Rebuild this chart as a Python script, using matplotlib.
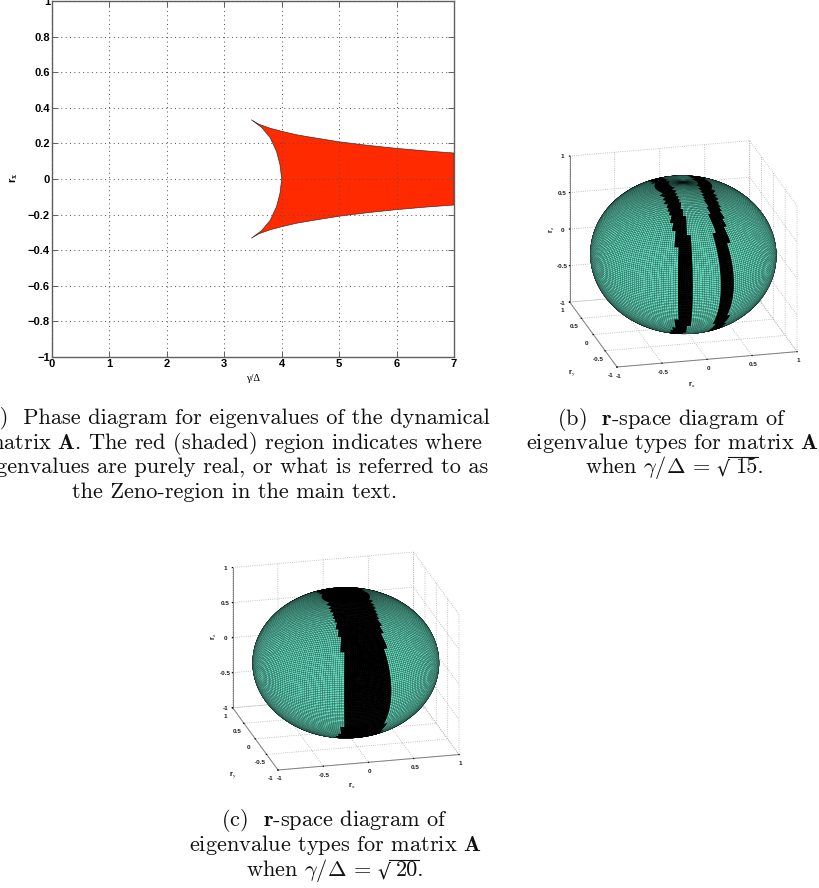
import numpy as np
import matplotlib
matplotlib.use("Agg")
import matplotlib.pyplot as plt
from matplotlib.lines import Line2D
from mpl_toolkits.mplot3d import proj3d

plt.rcParams['mathtext.fontset'] = 'cm'
plt.rcParams['axes.unicode_minus'] = True

W, H = 820, 888
SANS = 'Liberation Sans'
SERIF = 'cmr10'
GREY = '#606060'

# ---- data ----
x_ticks = [0, 1, 2, 3, 4, 5, 6, 7]
y_ticks = [-1, -0.8, -0.6, -0.4, -0.2, 0, 0.2, 0.4, 0.6, 0.8, 1]
y_labels = ['\u22121', '\u22120.8', '\u22120.6', '\u22120.4', '\u22120.2', '0',
            '0.2', '0.4', '0.6', '0.8', '1']

# upper edge of the red region, gamma/Delta against r_x
edge_gamma = [3.47, 3.6, 3.8, 4.0, 4.25, 4.5, 4.75, 5.0, 5.5, 6.0, 6.5, 7.0]
edge_r = [0.333, 0.308, 0.285, 0.268, 0.249, 0.235, 0.222, 0.209, 0.189, 0.172, 0.158, 0.146]
# left (cusped) edge of the red region, from the tip to r_x = 0
cusp_r = [0.333, 0.29, 0.232, 0.155, 0.08, 0.0]
cusp_gamma = [3.47, 3.65, 3.80, 3.91, 3.97, 4.0]

# r_x intervals of the black bands on each sphere
bands_b = [(-0.29, -0.14), (0.14, 0.29)]
bands_c = [(-0.235, 0.235)]

ticks_3d = [-1, -0.5, 0, 0.5, 1]
tick_labels_3d = ['-1', '-0.5', '0', '0.5', '1']

captions_a = [r"(a)  Phase diagram for eigenvalues of the dynamical",
              r"matrix $\mathbf{A}$. The red (shaded) region indicates where",
              r"eigenvalues are purely real, or what is referred to as",
              r"the Zeno-region in the main text."]
captions_b = [r"(b)  $\mathbf{r}$-space diagram of",
              r"eigenvalue types for matrix $\mathbf{A}$"]
captions_c = [r"(c)  $\mathbf{r}$-space diagram of",
              r"eigenvalue types for matrix $\mathbf{A}$"]
when_text = r"when $\gamma/\Delta$ ="
root_b = "15."
root_c = "20."

TEAL = '#66E0C2'
EDGE = '#000000'
ELEV, AZIM = 20, -104

fig = plt.figure(figsize=(W / 100, H / 100), dpi=100, facecolor='white')


def rect(l, t, r, b):
    return [l / W, 1 - b / H, (r - l) / W, (b - t) / H]


# ---- phase diagram ----
ax = fig.add_axes(rect(52, 1, 454, 357))
poly_g = list(edge_gamma) + list(edge_gamma[::-1]) + cusp_gamma[1:] + cusp_gamma[::-1][1:-1]
poly_r = list(edge_r) + [-v for v in edge_r[::-1]] + [-v for v in cusp_r[1:]] + cusp_r[::-1][1:-1]
ax.fill(poly_g, poly_r, facecolor='#FF2A00', edgecolor='#402020', linewidth=0.45, zorder=1)
ax.set_xlim(0, 7)
ax.set_ylim(-1, 1)
ax.set_xticks(x_ticks)
ax.set_yticks(y_ticks)
ax.set_yticklabels(y_labels)
ax.set_axisbelow(False)
ax.grid(True, linestyle=(0, (1, 3.5)), color='#505050', linewidth=0.7)
ax.tick_params(direction='in', length=4, width=0.7, top=True, right=True, color=GREY, pad=1.5)
for lab in ax.get_xticklabels() + ax.get_yticklabels():
    lab.set_fontfamily(SANS)
    lab.set_fontweight('bold')
    lab.set_fontsize(8)
for s in ax.spines.values():
    s.set_color(GREY)
    s.set_linewidth(1.0)
fig.text(253 / W, 1 - 378 / H, '\u03b3/\u0394', family='Liberation Serif', fontsize=7.5, ha='center', va='center')
fig.text(14 / W, 1 - 178 / H, r'r$_{\mathbf{x}}$', family=SANS, fontweight='bold', fontsize=8, rotation=90,
         ha='center', va='center')


# ---- spheres ----
def fit_box(ax3, aspect, corner_l_px, corner_r_x_px):
    """scale and shift the axes so the front floor edge lands on the given pixels"""
    zoom = 1.0
    for _ in range(3):
        ax3.set_box_aspect(aspect, zoom=zoom)
        M = ax3.get_proj()
        xa, ya, _z = proj3d.proj_transform(-1, -1, -1, M)
        xb, yb, _z = proj3d.proj_transform(1, -1, -1, M)
        pa = ax3.transData.transform((xa, ya))
        pb = ax3.transData.transform((xb, yb))
        zoom *= (corner_r_x_px - corner_l_px[0]) / (pb[0] - pa[0])
    ax3.set_box_aspect(aspect, zoom=zoom)
    M = ax3.get_proj()
    xa, ya, _z = proj3d.proj_transform(-1, -1, -1, M)
    pa = ax3.transData.transform((xa, ya))
    box = ax3.get_position()
    dx = (corner_l_px[0] - pa[0]) / W
    dy = ((H - corner_l_px[1]) - pa[1]) / H
    ax3.set_position([box.x0 + dx, box.y0 + dy, box.width, box.height])


def sphere(centre_px, bands, aspect, corner_l_px, corner_r_x_px, z_scale, z_shift):
    size = 420
    cx, cy = centre_px
    ax3 = fig.add_axes(rect(cx - size / 2, cy - size / 2, cx + size / 2, cy + size / 2), projection='3d')
    ax3.patch.set_alpha(0)
    ax3.set_proj_type('ortho')
    ax3.view_init(elev=ELEV, azim=AZIM)
    ax3.set_xlim(-1, 1)
    ax3.set_ylim(-1, 1)
    ax3.set_zlim(-1, 1)

    n_lon, n_lat = 240, 120
    lon = np.linspace(-np.pi, np.pi, n_lon + 1)
    lat = np.linspace(-np.pi / 2, np.pi / 2, n_lat + 1)
    LON, LAT = np.meshgrid(lon, lat)
    X = np.cos(LAT) * np.cos(LON)
    Y = np.cos(LAT) * np.sin(LON)
    Z = np.sin(LAT) * z_scale + z_shift
    # colour decided on small blocks of cells, as in the blocky band edges
    ci = np.arange(n_lon) // 2 * 2 + 1
    cj = np.arange(n_lat) // 2 * 2 + 1
    CI, CJ = np.meshgrid(ci, cj)
    Xc = np.cos(lat[CJ]) * np.cos(lon[CI])
    mask = np.zeros_like(Xc, dtype=bool)
    for lo, hi in bands:
        mask |= (Xc >= lo) & (Xc <= hi)
    # the far side is painted black so no teal shows through the seams
    el, az = np.radians(ELEV), np.radians(AZIM)
    facing = (X[:-1, :-1] * np.cos(el) * np.cos(az) + Y[:-1, :-1] * np.cos(el) * np.sin(az)
              + np.sin(LAT[:-1, :-1]) * np.sin(el))
    mask |= facing < -0.02
    fc = np.empty(mask.shape + (4,))
    fc[:] = matplotlib.colors.to_rgba(TEAL)
    fc[mask] = (0, 0, 0, 1)
    ax3.plot_surface(X, Y, Z, facecolors=fc, rstride=1, cstride=1, shade=False,
                     edgecolor=EDGE, linewidth=0.07, antialiased=True)

    for axis in (ax3.xaxis, ax3.yaxis, ax3.zaxis):
        axis.set_pane_color((1, 1, 1, 0))
        axis.pane.set_edgecolor('#a0a0a0')
        axis.pane.set_linestyle(':')
        axis.pane.set_linewidth(0.6)
        axis.line.set_color('#808080')
        axis.line.set_linewidth(0.7)
        axis._axinfo['grid'].update(color='#b0b0b0', linestyle=':', linewidth=0.6)
        axis._axinfo['tick'].update(inward_factor=0.02, outward_factor=0.0)
        axis._axinfo['tick']['color'] = '#808080'
    ax3.set_xticks(ticks_3d)
    ax3.set_yticks(ticks_3d)
    ax3.set_zticks(ticks_3d)
    ax3.set_xticklabels(tick_labels_3d)
    ax3.set_yticklabels(tick_labels_3d)
    ax3.set_zticklabels(tick_labels_3d)
    ax3.tick_params(axis='both', labelsize=4.6, pad=-3, labelcolor='#202020')
    ax3.tick_params(axis='y', pad=-2)
    ax3.tick_params(axis='z', labelsize=4.6, pad=-3)
    for lab in ax3.get_xticklabels() + ax3.get_yticklabels() + ax3.get_zticklabels():
        lab.set_fontfamily(SANS)
        lab.set_fontweight('bold')
    fit_box(ax3, aspect, corner_l_px, corner_r_x_px)
    return ax3


ax_b = sphere((683, 255), bands_b, (185, 195, 155), (617, 367), 797, 0.985, -0.012)
ax_c = sphere((356, 665), bands_c, (185, 186, 148), (278, 770), 459, 0.975, -0.025)


def small(x, y, main, sub, rot=0):
    fig.text(x / W, 1 - y / H, main + r'$_{\mathrm{' + sub + '}}$', family=SANS, fontweight='bold',
             fontsize=5, ha='center', va='center', rotation=rot)


small(692, 385, 'r', 'x')
small(572, 373, 'r', 'y')
small(552, 230, 'r', 'z', 90)
small(352, 786, 'r', 'x')
small(233, 775, 'r', 'y')
small(214, 637, 'r', 'z', 90)


# ---- captions ----
def caption(lines, cx, ys):
    for s, y in zip(lines, ys):
        fig.text(cx / W, 1 - y / H, s, family=SERIF, fontsize=16.1, ha='center', va='baseline', color='#111111')


def when_line(root, x0, y):
    fig.text(x0 / W, 1 - y / H, when_text, family=SERIF, fontsize=16.1, ha='left', va='baseline', color='#111111')
    fig.text((x0 + 131) / W, 1 - (y + 3) / H, '\u221a', family='DejaVu Serif', fontsize=14.8, ha='left',
             va='baseline', color='#111111')
    fig.add_artist(Line2D([(x0 + 143) / W, (x0 + 173) / W], [1 - (y - 16) / H] * 2, transform=fig.transFigure,
                          color='#111111', linewidth=0.8))
    fig.text((x0 + 150) / W, 1 - y / H, root, family=SERIF, fontsize=16.1, ha='left', va='baseline', color='#111111')


caption(captions_a, 234.5, [424, 449, 473, 498])
caption(captions_b, 672, [425, 449])
when_line(root_b, 585, 473)
caption(captions_c, 335, [826, 851])
when_line(root_c, 246, 876)

fig.savefig('out.png', dpi=100)
